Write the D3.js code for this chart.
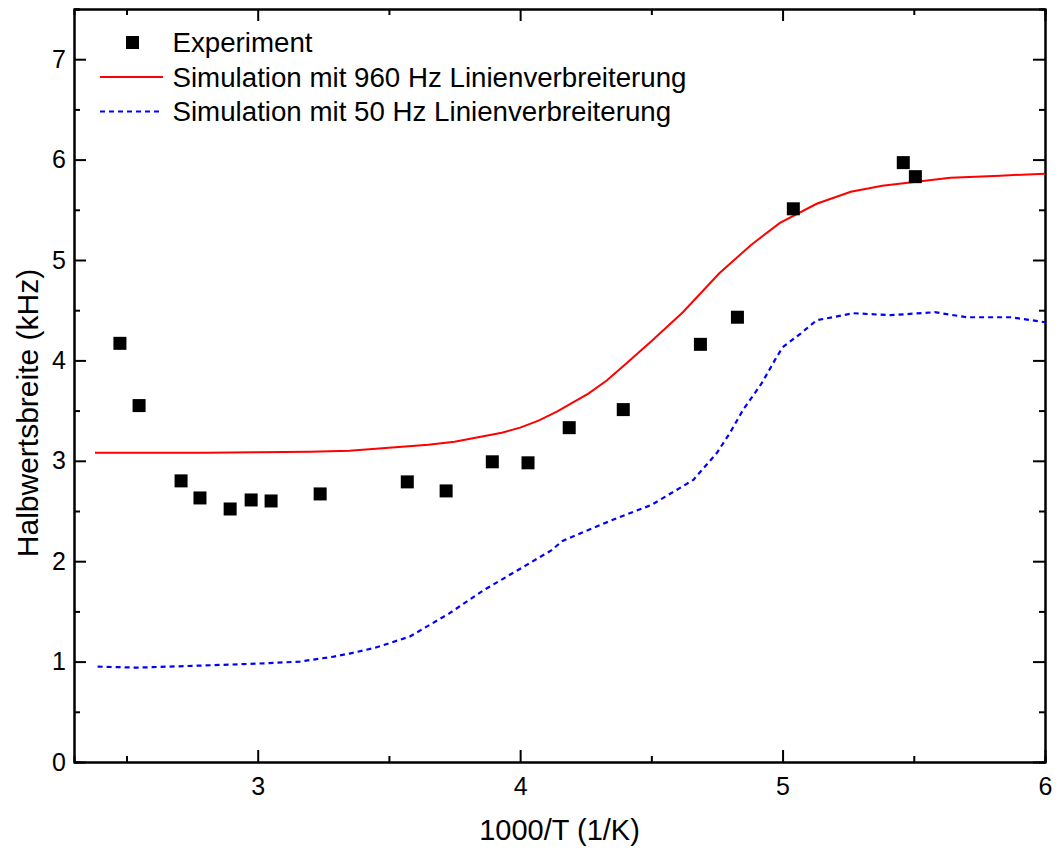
<!DOCTYPE html>
<html>
<head>
<meta charset="utf-8">
<script src="https://cdn.jsdelivr.net/npm/d3@7"></script>
<style>
  body { margin: 0; background: #fff; }
  svg { font-family: "Liberation Sans", Arial, sans-serif; }
</style>
</head>
<body>
<div id="chart"></div>
<script>
// experiment points: 1000/T (1/K), half width (kHz)
const expX = [2.475, 2.548, 2.708, 2.78, 2.895, 2.975, 3.051, 3.238, 3.57, 3.718, 3.894, 4.03, 4.187, 4.393, 4.687, 4.828, 5.041, 5.46, 5.506];
const expY = [4.17, 3.55, 2.80, 2.63, 2.52, 2.61, 2.60, 2.67, 2.79, 2.70, 2.99, 2.98, 3.33, 3.51, 4.16, 4.43, 5.51, 5.97, 5.83];

// simulation 960 Hz
const sim960X = [2.38, 2.6, 2.8, 3.0, 3.2, 3.35, 3.5, 3.65, 3.75, 3.85, 3.93, 4.0, 4.07, 4.14, 4.2, 4.26, 4.33, 4.4, 4.5, 4.62, 4.76, 4.88, 4.99, 5.13, 5.26, 5.38, 5.51, 5.64, 5.83, 6.0];
const sim960Y = [3.08, 3.08, 3.08, 3.085, 3.09, 3.10, 3.13, 3.16, 3.19, 3.24, 3.28, 3.33, 3.40, 3.49, 3.58, 3.67, 3.80, 3.96, 4.19, 4.48, 4.87, 5.15, 5.37, 5.56, 5.68, 5.74, 5.78, 5.82, 5.84, 5.86];

// simulation 50 Hz
const sim50X = [2.39, 2.54, 2.78, 3.0, 3.16, 3.29, 3.35, 3.45, 3.58, 3.73, 3.86, 4.01, 4.12, 4.16, 4.24, 4.37, 4.5, 4.59, 4.66, 4.75, 4.8, 4.85, 4.92, 4.97, 5.0, 5.07, 5.13, 5.27, 5.41, 5.58, 5.7, 5.87, 6.0];
const sim50Y = [0.95, 0.94, 0.96, 0.98, 1.0, 1.05, 1.08, 1.14, 1.25, 1.48, 1.71, 1.94, 2.11, 2.2, 2.29, 2.43, 2.56, 2.7, 2.81, 3.08, 3.28, 3.51, 3.77, 4.0, 4.13, 4.27, 4.4, 4.47, 4.45, 4.48, 4.43, 4.43, 4.38];

const xTicks = [3, 4, 5, 6];
const xMinor = [2.5, 3.5, 4.5, 5.5];
const yTicks = [0, 1, 2, 3, 4, 5, 6, 7];
const yMinor = [0.5, 1.5, 2.5, 3.5, 4.5, 5.5, 6.5, 7.5];

const legendLabels = ['Experiment', 'Simulation mit 960 Hz Linienverbreiterung', 'Simulation mit 50 Hz Linienverbreiterung'];

const margin = {top: 9, right: 14, bottom: 88, left: 74};
const W = 1059, H = 850;
const width = W - margin.left - margin.right;
const height = H - margin.top - margin.bottom;

const svg = d3.select('#chart').append('svg')
  .attr('width', W)
  .attr('height', H);

const g = svg.append('g')
  .attr('transform', `translate(${margin.left},${margin.top})`);

const x = d3.scaleLinear().domain([2.3, 6]).range([0, width]);
const y = d3.scaleLinear().domain([0, 7.5]).range([height, 0]);

const styleAxis = (sel) => {
  sel.selectAll('.domain').attr('stroke', '#000').attr('stroke-width', 2);
  sel.selectAll('.tick line').attr('stroke', '#000').attr('stroke-width', 2);
  sel.selectAll('.tick text').attr('fill', '#000').style('font-size', '25px');
};

// major axes
g.append('g').attr('transform', `translate(0,${height})`)
  .call(d3.axisBottom(x).tickValues(xTicks).tickFormat(d3.format('d')).tickSizeInner(-12).tickSizeOuter(0).tickPadding(15))
  .call(styleAxis);
g.append('g')
  .call(d3.axisTop(x).tickValues(xTicks).tickFormat('').tickSizeInner(-12).tickSizeOuter(0))
  .call(styleAxis);
g.append('g')
  .call(d3.axisLeft(y).tickValues(yTicks).tickFormat(d3.format('d')).tickSizeInner(-12).tickSizeOuter(0).tickPadding(8))
  .call(styleAxis);
g.append('g').attr('transform', `translate(${width},0)`)
  .call(d3.axisRight(y).tickValues(yTicks).tickFormat('').tickSizeInner(-12).tickSizeOuter(0))
  .call(styleAxis);

// minor ticks
g.append('g').attr('transform', `translate(0,${height})`)
  .call(d3.axisBottom(x).tickValues(xMinor).tickFormat('').tickSize(-6))
  .call(styleAxis);
g.append('g')
  .call(d3.axisTop(x).tickValues(xMinor).tickFormat('').tickSize(-6))
  .call(styleAxis);
g.append('g')
  .call(d3.axisLeft(y).tickValues(yMinor).tickFormat('').tickSize(-6))
  .call(styleAxis);
g.append('g').attr('transform', `translate(${width},0)`)
  .call(d3.axisRight(y).tickValues(yMinor).tickFormat('').tickSize(-6))
  .call(styleAxis);

// axis titles
svg.append('text')
  .attr('x', margin.left + width / 2)
  .attr('y', 840)
  .attr('text-anchor', 'middle')
  .style('font-size', '29px')
  .text('1000/T (1/K)');

svg.append('text')
  .attr('transform', 'translate(38,413) rotate(-90)')
  .attr('text-anchor', 'middle')
  .style('font-size', '30px')
  .text('Halbwertsbreite (kHz)');

// lines
const line = d3.line().x(d => x(d[0])).y(d => y(d[1]));

g.append('path')
  .datum(d3.zip(sim50X, sim50Y))
  .attr('fill', 'none')
  .attr('stroke', '#0000ff')
  .attr('stroke-width', 2.2)
  .attr('stroke-dasharray', '5,4')
  .attr('d', line);

g.append('path')
  .datum(d3.zip(sim960X, sim960Y))
  .attr('fill', 'none')
  .attr('stroke', '#ff0000')
  .attr('stroke-width', 2)
  .attr('d', line);

// points
const sq = 13;
g.selectAll('rect.exp')
  .data(d3.zip(expX, expY))
  .enter()
  .append('rect')
    .attr('class', 'exp')
    .attr('x', d => x(d[0]) - sq / 2)
    .attr('y', d => y(d[1]) - sq / 2)
    .attr('width', sq)
    .attr('height', sq)
    .attr('fill', '#000');

// legend
const legend = svg.append('g').attr('transform', 'translate(100,42.5)');
const rowH = 34.5;

legend.append('rect')
  .attr('x', 26).attr('y', -sq / 2)
  .attr('width', sq).attr('height', sq)
  .attr('fill', '#000');
legend.append('line')
  .attr('x1', 0).attr('x2', 63)
  .attr('y1', rowH).attr('y2', rowH)
  .attr('stroke', '#ff0000').attr('stroke-width', 2);
legend.append('line')
  .attr('x1', 0).attr('x2', 63)
  .attr('y1', rowH * 2).attr('y2', rowH * 2)
  .attr('stroke', '#0000ff').attr('stroke-width', 2.2)
  .attr('stroke-dasharray', '5,4');

legend.selectAll('text.leg')
  .data(legendLabels)
  .enter()
  .append('text')
    .attr('class', 'leg')
    .attr('x', 72.5)
    .attr('y', (d, i) => i * rowH + 9.5)
    .style('font-size', '27.7px')
    .text(d => d);
</script>
</body>
</html>
